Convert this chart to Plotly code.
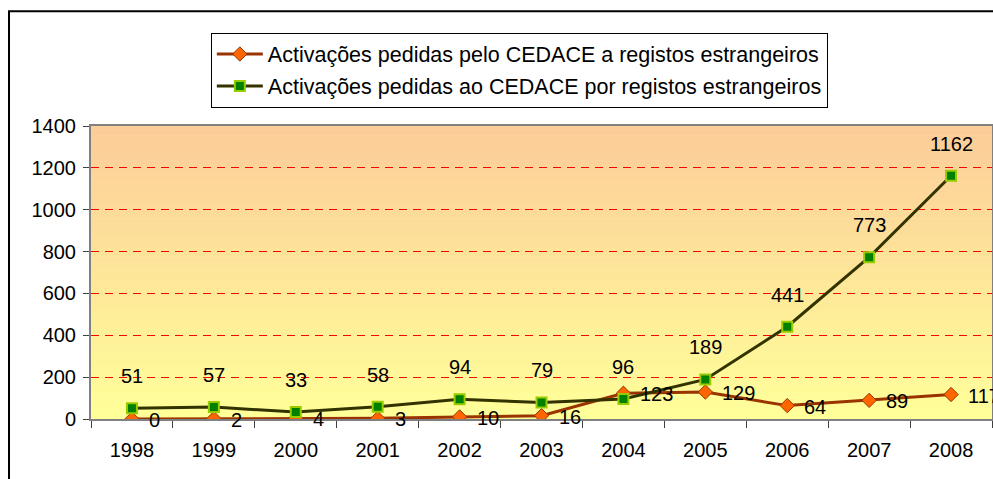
import plotly.graph_objects as go

# Data
years = ["1998", "1999", "2000", "2001", "2002", "2003", "2004", "2005", "2006", "2007", "2008"]
pedidas_pelo = [0, 2, 4, 3, 10, 16, 123, 129, 64, 89, 117]
pedidas_ao = [51, 57, 33, 58, 94, 79, 96, 189, 441, 773, 1162]
y_ticks = [0, 200, 400, 600, 800, 1000, 1200, 1400]

name_pelo = "Activações pedidas pelo CEDACE a registos estrangeiros"
name_ao = "Activações pedidas ao CEDACE por registos estrangeiros"

FONT = "Liberation Sans, Arial, sans-serif"
COLORS = {
    "pelo_line": "#993300",
    "pelo_marker": "#FF6600",
    "ao_line": "#333300",
    "ao_marker": "#008000",
    "ao_edge": "#99CC00",
    "grid": "#FF0000",
    "axis": "#808080",
}

fig = go.Figure()

fig.add_trace(
    go.Scatter(
        x=years,
        y=pedidas_pelo,
        mode="lines+markers",
        name=name_pelo,
        legendgroup="a",
        line=dict(color=COLORS["pelo_line"], width=3),
        marker=dict(symbol="diamond", size=11, color=COLORS["pelo_marker"],
                    line=dict(color=COLORS["pelo_line"], width=1)),
    )
)

fig.add_trace(
    go.Scatter(
        x=years,
        y=pedidas_ao,
        mode="lines+markers",
        name=name_ao,
        legendgroup="b",
        line=dict(color=COLORS["ao_line"], width=3),
        marker=dict(symbol="square", size=10, color=COLORS["ao_marker"],
                    line=dict(color=COLORS["ao_edge"], width=2)),
    )
)

# Data labels (x given as category index so the year strings are not read as numbers)
annotations = []
for i, v in enumerate(pedidas_pelo):
    annotations.append(dict(x=i, y=v, text=str(v), showarrow=False, xanchor="left",
                            yanchor="middle", xshift=15, yshift=-1,
                            font=dict(size=20, color="black", family=FONT)))
for i, v in enumerate(pedidas_ao):
    annotations.append(dict(x=i, y=v, text=str(v), showarrow=False, xanchor="center",
                            yanchor="middle", yshift=32,
                            font=dict(size=20, color="black", family=FONT)))

# Gradient plot background (orange at top to pale yellow at bottom)
shapes = []
n_bands = 60
top_rgb = (252, 204, 153)
bot_rgb = (255, 255, 153)
for i in range(n_bands):
    t = i / (n_bands - 1)
    r = round(bot_rgb[0] + (top_rgb[0] - bot_rgb[0]) * t)
    g = round(bot_rgb[1] + (top_rgb[1] - bot_rgb[1]) * t)
    b = round(bot_rgb[2] + (top_rgb[2] - bot_rgb[2]) * t)
    shapes.append(dict(type="rect", xref="x domain", yref="y domain",
                       x0=0, x1=1, y0=i / n_bands, y1=(i + 1) / n_bands + 0.002,
                       fillcolor=f"rgb({r},{g},{b})", line=dict(width=0), layer="below"))

# Outer chart border
shapes.append(dict(type="rect", xref="paper", yref="paper",
                   x0=-0.091, x1=1.1, y0=-0.5, y1=1.392,
                   line=dict(color="black", width=2), fillcolor="rgba(0,0,0,0)", layer="above"))

fig.update_layout(
    width=993,
    height=479,
    margin=dict(l=91, r=1, t=126, b=60, autoexpand=False),
    paper_bgcolor="white",
    plot_bgcolor="rgba(0,0,0,0)",
    font=dict(family=FONT, size=20, color="black"),
    showlegend=True,
    legend=dict(
        x=0.133,
        y=1.319,
        xanchor="left",
        yanchor="top",
        bgcolor="white",
        bordercolor="black",
        borderwidth=1,
        font=dict(size=21.5, family=FONT, color="black"),
        traceorder="grouped",
        tracegroupgap=1,
        itemwidth=46,
    ),
    xaxis=dict(
        type="category",
        range=[-0.5, len(years) - 0.5],
        tickson="boundaries",
        ticks="outside",
        ticklen=7,
        tickcolor="#404040",
        showline=True,
        linecolor=COLORS["axis"],
        linewidth=2,
        mirror=True,
        showgrid=False,
        tickangle=0,
        ticklabelstandoff=12,
        tickfont=dict(size=20, family=FONT),
    ),
    yaxis=dict(
        range=[0, 1400],
        tickvals=y_ticks,
        ticks="outside",
        ticklen=6,
        tickcolor="#404040",
        showline=True,
        linecolor=COLORS["axis"],
        linewidth=2,
        mirror=True,
        showgrid=True,
        gridcolor=COLORS["grid"],
        griddash="8px,6px",
        gridwidth=1,
        zeroline=False,
        ticklabelstandoff=3,
        tickfont=dict(size=20, family=FONT),
    ),
    annotations=annotations,
    shapes=shapes,
)

# remove the default page margin so the figure sits at the window's top-left corner
fig.write_html(
    "out.html",
    config={"displayModeBar": False},
    post_script="document.body.style.margin='0px';",
)
